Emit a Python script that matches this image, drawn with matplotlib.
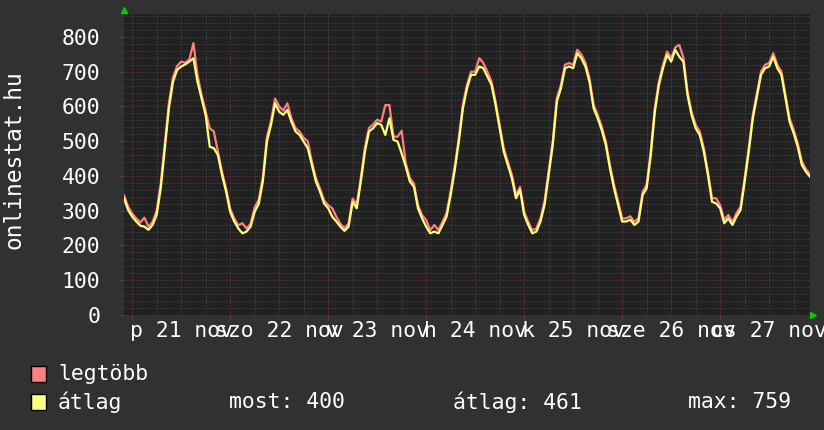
# weekly rrd-style graph of onlinestat.hu visitors
# values read off the old png by hand, one per hour, 22:00 nov 20 -> 22:00 nov 27

import numpy as np
import matplotlib
matplotlib.use("Agg")
import matplotlib.pyplot as plt

# hourly averages (átlag)
atlag = [
    336, 302, 283, 269, 257, 254, 245, 259, 288, 365, 480, 595, 671, 705, 715, 721,
    729, 739, 671, 623, 575, 484, 480, 460, 403, 355, 297, 269, 249, 235, 240, 254,
    297, 320, 384, 499, 547, 609, 585, 576, 590, 556, 528, 518, 499, 480, 432, 384,
    355, 321, 307, 283, 269, 254, 242, 254, 326, 307, 384, 470, 528, 537, 552, 547,
    518, 566, 504, 499, 465, 427, 384, 369, 307, 278, 254, 235, 240, 235, 259, 283,
    345, 417, 499, 595, 652, 691, 691, 715, 710, 686, 662, 604, 537, 470, 432, 393,
    336, 360, 288, 259, 235, 240, 269, 317, 403, 489, 614, 652, 710, 715, 710, 753,
    739, 715, 671, 595, 566, 532, 489, 422, 365, 317, 269, 269, 274, 259, 269, 345,
    365, 460, 585, 662, 710, 748, 729, 763, 743, 729, 633, 575, 537, 518, 470, 403,
    326, 321, 307, 264, 278, 259, 283, 302, 384, 470, 566, 628, 691, 710, 715, 743,
    710, 691, 623, 556, 523, 484, 432, 412, 398,
]

# hourly maxima (legtöbb)
legtobb = [
    345, 312, 292, 278, 266, 280, 254, 268, 300, 378, 495, 610, 684, 716, 729, 726,
    735, 782, 690, 633, 586, 537, 528, 470, 412, 364, 306, 278, 258, 264, 249, 262,
    310, 332, 396, 512, 558, 623, 600, 588, 609, 566, 538, 528, 510, 500, 442, 394,
    364, 330, 316, 307, 283, 262, 250, 263, 335, 318, 395, 482, 538, 548, 562, 556,
    604, 604, 513, 513, 530, 437, 394, 378, 316, 287, 273, 244, 259, 244, 268, 293,
    356, 428, 510, 606, 662, 700, 700, 739, 725, 700, 672, 614, 547, 480, 442, 403,
    345, 369, 297, 268, 244, 249, 278, 328, 414, 500, 624, 662, 720, 725, 720, 763,
    750, 726, 681, 605, 576, 542, 499, 432, 375, 327, 278, 278, 284, 268, 278, 354,
    375, 471, 596, 672, 720, 758, 739, 770, 777, 740, 643, 585, 547, 528, 480, 413,
    336, 336, 316, 274, 288, 268, 293, 312, 394, 480, 576, 638, 700, 720, 725, 753,
    720, 700, 633, 566, 533, 494, 442, 420, 404,
]

# day labels, centred at noon (hours from start of graph)
nap_cimkek = ["p 21 nov", "szo 22 nov", "v 23 nov", "h 24 nov",
              "k 25 nov", "sze 26 nov", "cs 27 nov"]
nap_delek = [14, 38, 62, 86, 110, 134, 158]

y_ticks = [0, 100, 200, 300, 400, 500, 600, 700, 800]

BG = "#313131"
CANVAS = "#212121"
RED = "#ff7f7f"
YEL = "#ffff7f"
FONT = "DejaVu Sans Mono"

fig = plt.figure(figsize=(8.24, 4.30), dpi=100, facecolor=BG)
ax = fig.add_axes([124 / 824, 115 / 430, 686 / 824, 301 / 430])
ax.set_facecolor(CANVAS)

t = np.arange(len(atlag))
ax.set_xlim(0, 168)
ax.set_ylim(0, 866)

# grid: minor every 20 / 6h grey, major every 100 / midnight red
for v in range(20, 866, 20):
    col = "#7a3a3a" if v % 100 == 0 else "#4e4e4e"
    ax.axhline(v, color=col, lw=0.72, ls=(0, (1, 2)), zorder=1)
for h in range(2, 168, 6):
    col = "#7a3a3a" if (h - 2) % 24 == 0 else "#4e4e4e"
    ax.axvline(h, color=col, lw=0.72, ls=(0, (1, 2)), zorder=1)

ax.plot(t, legtobb, color=RED, lw=1.6, zorder=3)
ax.plot(t, atlag, color=YEL, lw=1.6, zorder=4)

for s in ax.spines.values():
    s.set_visible(False)

ax.set_yticks(y_ticks)
ax.set_yticklabels([str(v) for v in y_ticks], fontfamily=FONT, fontsize=15.4, color="white")
ax.tick_params(axis="y", length=3, color="#7a3a3a", pad=14)
ax.set_xticks(range(2, 169, 24))
ax.set_xticklabels([])
ax.tick_params(axis="x", length=3, color="#7a3a3a", direction="out")

for lbl, h in zip(nap_cimkek, nap_delek):
    ax.text(h, -16 / 301 * 866, lbl, ha="center", va="center", fontfamily=FONT,
            fontsize=15.4, color="white", clip_on=False)

fig.text(14 / 824, 1 - 160 / 430, "onlinestat.hu", rotation=90, ha="center", va="center",
         fontfamily=FONT, fontsize=16.5, color="white")

# little green arrows at the axis ends
fig.lines.append(plt.Line2D([124 / 824], [1 - 10 / 430], marker="^", ms=5, color="#00cc00",
                            transform=fig.transFigure))
fig.lines.append(plt.Line2D([813 / 824], [1 - 315 / 430], marker=">", ms=5, color="#00cc00",
                            transform=fig.transFigure))

# legend
def swatch(y, col):
    fig.patches.append(plt.Rectangle((31 / 824, 1 - (y + 8) / 430), 15 / 824, 16 / 430,
                                     facecolor=col, edgecolor="black", lw=1,
                                     transform=fig.transFigure))

swatch(374, RED)
swatch(402, YEL)
legend_txt = [(58, 374, "legtöbb"), (58, 402, "átlag"), (229, 402, "most: 400"),
              (453, 402, "átlag: 461"), (688, 402, "max: 759")]
for x, y, s in legend_txt:
    fig.text(x / 824, 1 - y / 430, s, ha="left", va="center", fontfamily=FONT,
             fontsize=15.4, color="white")

plt.savefig("out.png", dpi=100, facecolor=BG)
